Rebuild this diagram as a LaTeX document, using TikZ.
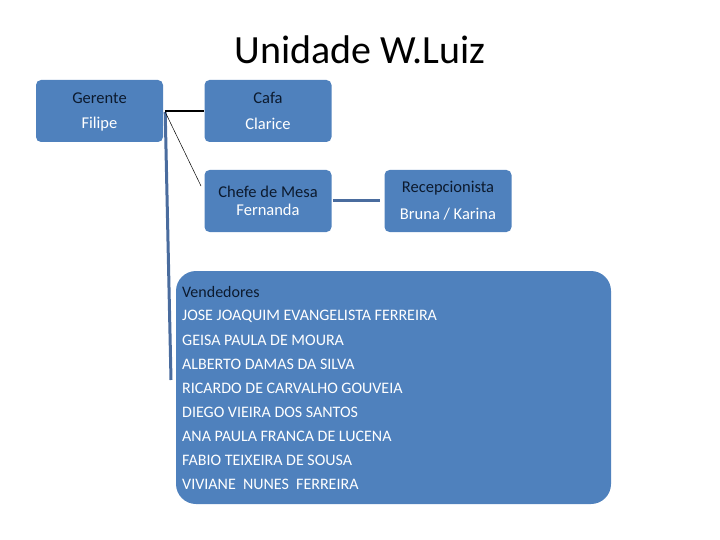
\documentclass[tikz,border=0pt]{standalone}
\usepackage{fontspec}
\setmainfont{Carlito}
\definecolor{boxblue}{HTML}{4F81BD}
\definecolor{lineblue}{HTML}{4A6C9E}
\definecolor{darktxt}{HTML}{0C1A2E}
\begin{document}
\begin{tikzpicture}[x=1pt,y=-1pt,
  orgbox/.style={draw=none,fill=boxblue,rounded corners=5pt,minimum width=127pt,minimum height=62pt,inner sep=0pt},
  headtxt/.style={text=darktxt,font=\fontsize{16.5}{18}\selectfont,inner sep=0pt},
  nametxt/.style={text=white,font=\fontsize{16.5}{18}\selectfont,inner sep=0pt},
  itemtxt/.style={text=white,font=\fontsize{16}{18}\selectfont,inner sep=0pt,anchor=west},
  bluelink/.style={draw=lineblue,line width=3pt}]
\useasboundingbox (0,0) rectangle (720,540);
\node[font=\fontsize{40}{44}\selectfont,inner sep=0pt] (title) at (360,50) {Unidade W.Luiz};
\node[orgbox] (ger) at (99.5,111) {};
\node[orgbox] (cafa) at (268,111) {};
\node[orgbox] (chefe) at (268,201) {};
\node[orgbox] (rec) at (448,201) {};
\node[orgbox,rounded corners=20pt,minimum width=435pt,minimum height=233pt] (vend) at (393.5,387.5) {};
\node[headtxt] (gerh) at (99.5,98) {Gerente};
\node[nametxt] (gern) at (99.5,124) {Filipe};
\node[headtxt] (cafah) at (268,98) {Cafa};
\node[nametxt] (cafan) at (268,124) {Clarice};
\node[headtxt] (chefeh) at (268,192) {Chefe de Mesa};
\node[nametxt] (chefen) at (268,210) {Fernanda};
\node[headtxt] (rech) at (448,188) {Recepcionista};
\node[nametxt] (recn) at (448,214) {Bruna / Karina};
\node[itemtxt,text=darktxt] (v0) at (182,292) {Vendedores};
\node[itemtxt] (v1) at (182,316) {JOSE JOAQUIM EVANGELISTA FERREIRA};
\node[itemtxt] (v2) at (182,340) {GEISA PAULA DE MOURA};
\node[itemtxt] (v3) at (182,364) {ALBERTO DAMAS DA SILVA};
\node[itemtxt] (v4) at (182,388) {RICARDO DE CARVALHO GOUVEIA};
\node[itemtxt] (v5) at (182,412) {DIEGO VIEIRA DOS SANTOS};
\node[itemtxt] (v6) at (182,436) {ANA PAULA FRANCA DE LUCENA};
\node[itemtxt] (v7) at (182,460) {FABIO TEIXEIRA DE SOUSA};
\node[itemtxt] (v8) at (182,484) {VIVIANE\ \ NUNES\ \ FERREIRA};
\coordinate (hub) at ([xshift=2pt,yshift=-1pt]ger.east);
\coordinate (vend-end) at (171,380);
\coordinate (chefe-in) at (201,186);
\draw[bluelink] (hub) -- (vend-end);
\draw[black,line width=1.6pt] ([xshift=2pt]ger.east) -- (cafa.west);
\draw[black,line width=0.5pt] (hub) -- (chefe-in);
\draw[bluelink] ([xshift=1pt]chefe.east) -- ([xshift=-4pt]rec.west);
\end{tikzpicture}
\end{document}
